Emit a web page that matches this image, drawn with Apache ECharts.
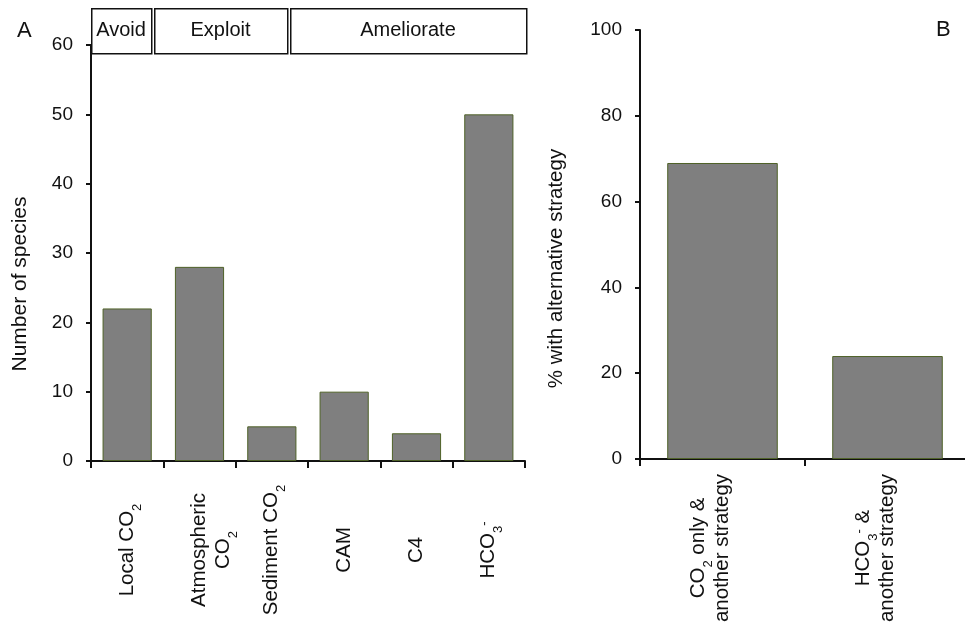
<!DOCTYPE html>
<html>
<head>
<meta charset="utf-8">
<script src="https://cdn.jsdelivr.net/npm/echarts@6/dist/echarts.min.js"></script>
<style>
  html, body { margin: 0; padding: 0; background: #fff; }
  #chart { width: 965px; height: 625px; }
</style>
</head>
<body>
<div id="chart"></div>
<script>
// Panel A: number of species using each carbon-acquisition strategy
const speciesCategories = ['Local CO{s|2}', 'Atmospheric\nCO{s|2}', 'Sediment CO{s|2}', 'CAM', 'C4', 'HCO{s|3}{p|-}'];
const speciesCounts = [22, 28, 5, 10, 4, 50];
const speciesTicks = [0, 10, 20, 30, 40, 50, 60];
const strategyGroups = ['Avoid', 'Exploit', 'Ameliorate'];

// Panel B: share of species combining a strategy with another one
const overlapCategories = ['CO{s|2} only &\nanother strategy', 'HCO{s|3}{p|-} &\nanother strategy'];
const overlapPercent = [69, 24];
const overlapTicks = [0, 20, 40, 60, 80, 100];

const FONT = 'Liberation Sans, Arial, sans-serif';
const INK = '#111';
const CAT_SIZE = 20.5;

const richScripts = {
  s: { fontFamily: FONT, fontSize: 13, color: INK, verticalAlign: 'bottom', height: 4 },
  p: { fontFamily: FONT, fontSize: 13, color: INK, verticalAlign: 'top', height: 16 }
};

function labelStyle(padding) {
  return {
    align: 'center',
    verticalAlign: 'middle',
    fontFamily: FONT,
    fontSize: CAT_SIZE,
    lineHeight: 24,
    color: INK,
    padding: padding,
    rich: richScripts
  };
}

function categoryAxis(gridIndex, names, shifts) {
  return {
    type: 'category',
    gridIndex: gridIndex,
    data: names.map((n, i) => shifts[i] ? { value: n, textStyle: labelStyle(shifts[i]) } : n),
    axisLine: { show: true, lineStyle: { color: INK, width: 2 } },
    axisTick: { show: true, inside: false, length: 7, alignWithLabel: false, lineStyle: { color: INK, width: 2 } },
    axisLabel: Object.assign({ interval: 0, rotate: 90, margin: 89 }, labelStyle(0))
  };
}

function valueAxis(gridIndex, ticks, name, gap, shift, nameSize) {
  return {
    type: 'value',
    gridIndex: gridIndex,
    min: ticks[0],
    max: ticks[ticks.length - 1],
    interval: ticks[1] - ticks[0],
    splitLine: { show: false },
    axisLine: { show: true, lineStyle: { color: INK, width: 2 } },
    axisTick: { show: true, length: 5, lineStyle: { color: INK, width: 2 } },
    axisLabel: { margin: 18, fontFamily: FONT, fontSize: 19, color: INK },
    name: name,
    nameLocation: 'middle',
    nameGap: gap,
    nameTextStyle: { fontFamily: FONT, fontSize: nameSize, color: INK, padding: [0, shift, 0, 0] }
  };
}

const barStyle = { color: '#7f7f7f', borderColor: '#4f6228', borderWidth: 1 };

// Bracket boxes naming the strategy groups above panel A
const groupBoxes = [[91, 151], [154, 287], [290, 526]];
const groupGraphics = [];
strategyGroups.forEach((g, i) => {
  const [x0, x1] = groupBoxes[i];
  groupGraphics.push({
    type: 'rect', left: x0, top: 8,
    shape: { width: x1 - x0, height: 45 },
    style: { fill: '#fff', stroke: INK, lineWidth: 1.5 }
  });
  groupGraphics.push({
    type: 'text', x: (x0 + x1) / 2, y: 30.5,
    style: { text: g, fontFamily: FONT, fontSize: 20, fill: INK, align: 'center', verticalAlign: 'middle' }
  });
});

const chart = echarts.init(document.getElementById('chart'), null, { renderer: 'canvas' });
chart.setOption({
  backgroundColor: '#fff',
  animation: false,
  grid: [
    { left: 91, top: 45, width: 434, height: 416, outerBoundsMode: 'none', containLabel: false },
    { left: 640, top: 30, width: 330, height: 429, outerBoundsMode: 'none', containLabel: false }
  ],
  xAxis: [
    categoryAxis(0, speciesCategories, [null, [24, 0, 0, 0], null, null, null, null]),
    categoryAxis(1, overlapCategories, [[0, 0, 24, 0], [0, 0, 24, 0]])
  ],
  yAxis: [
    valueAxis(0, speciesTicks, 'Number of species', 60, 62, 21),
    valueAxis(1, overlapTicks, '% with alternative strategy', 73, 48, 20.5)
  ],
  series: [
    { type: 'bar', xAxisIndex: 0, yAxisIndex: 0, data: speciesCounts, barCategoryGap: '32%', itemStyle: barStyle },
    { type: 'bar', xAxisIndex: 1, yAxisIndex: 1, data: overlapPercent, barCategoryGap: '33%', itemStyle: barStyle }
  ],
  graphic: groupGraphics.concat([
    { type: 'text', x: 17, y: 31, style: { text: 'A', fontFamily: FONT, fontSize: 22, fill: INK, verticalAlign: 'middle' } },
    { type: 'text', x: 936, y: 30, style: { text: 'B', fontFamily: FONT, fontSize: 22, fill: INK, verticalAlign: 'middle' } }
  ])
});
</script>
</body>
</html>
